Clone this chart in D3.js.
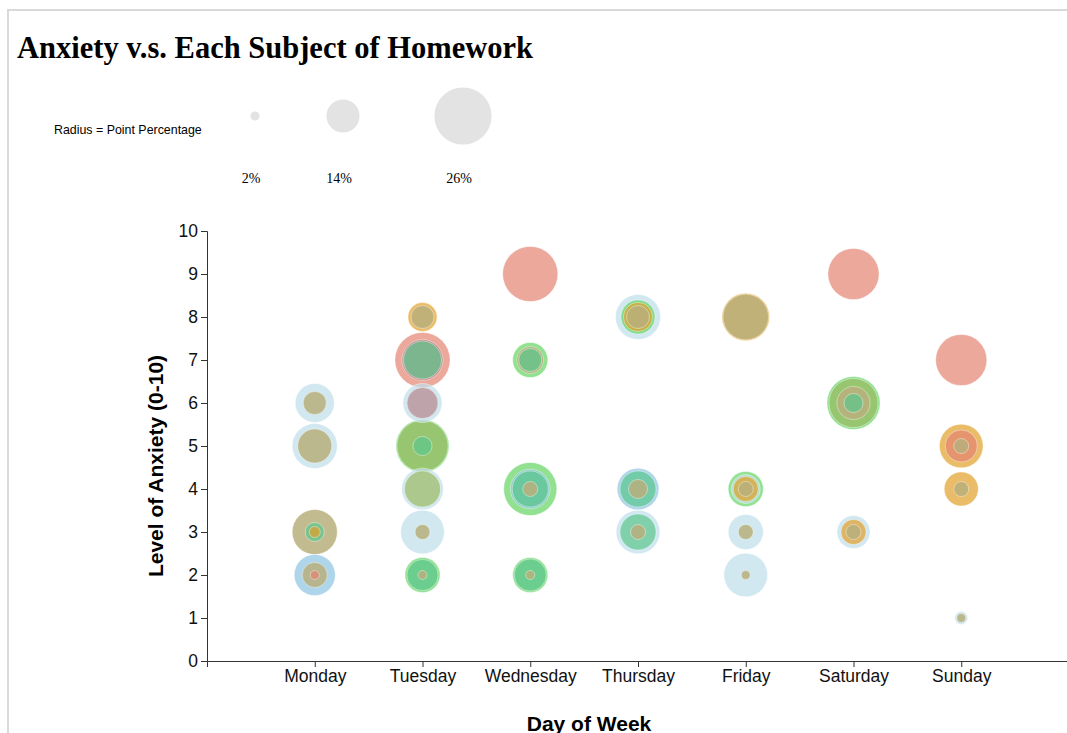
<!DOCTYPE html>
<html>
<head>
<meta charset="utf-8">
<script src="https://cdn.jsdelivr.net/npm/d3@7"></script>
<style>
  body { margin: 0; overflow: hidden; background: #fff; }
  .title { font-family: "Liberation Serif", "Times New Roman", serif; font-weight: bold; font-size: 30.5px; }
  .legendText { font-family: "Liberation Sans", Arial, sans-serif; font-size: 12.4px; }
  .legendPct { font-family: "Liberation Serif", "Times New Roman", serif; font-size: 14px; }
  .axis text { font-family: "Liberation Sans", Arial, sans-serif; font-size: 17.5px; fill: #111; }
  .axis path, .axis line { stroke: #333; }
  .label { font-family: "Liberation Sans", Arial, sans-serif; font-weight: bold; font-size: 21px; }
</style>
</head>
<body>
<svg width="1067" height="733"></svg>
<script>
var days = ["Monday", "Tuesday", "Wednesday", "Thursday", "Friday", "Saturday", "Sunday"];
var yTicks = [0, 1, 2, 3, 4, 5, 6, 7, 8, 9, 10];
var legendPcts = [2, 14, 26];

var subjects = ["Math", "Physics", "Biology", "Chemistry", "English", "History", "Art", "Economics", "Spanish"];
var subjectColors = ["#bfdeeb", "#8cc3e1", "#62d462", "#9bba62", "#e1a028", "#e28370", "#b5888c", "#b9af7d", "#5bc68d"];
var subjectOpacity = [0.7, 0.7, 0.7, 0.7, 0.7, 0.7, 0.7, 0.85, 0.7];

// [day, anxiety, point percentage]
var mathPoints = [["Monday", 6, 17], ["Monday", 5, 20], ["Tuesday", 6, 17], ["Tuesday", 4, 18.3], ["Tuesday", 3, 19.3],
  ["Thursday", 8, 20], ["Thursday", 3, 19.3], ["Friday", 4, 12], ["Friday", 3, 15], ["Friday", 2, 19.3],
  ["Saturday", 3, 14], ["Sunday", 1, 4]];
var physicsPoints = [["Monday", 2, 18], ["Wednesday", 4, 17.3], ["Thursday", 4, 18.3]];
var biologyPoints = [["Tuesday", 5, 24], ["Tuesday", 2, 15], ["Wednesday", 7, 15], ["Wednesday", 4, 24], ["Wednesday", 2, 15],
  ["Thursday", 8, 14.5], ["Friday", 4, 15], ["Saturday", 6, 24]];
var chemistryPoints = [["Tuesday", 5, 23], ["Tuesday", 4, 15.5], ["Saturday", 6, 22]];
var englishPoints = [["Monday", 3, 3], ["Tuesday", 8, 12], ["Thursday", 8, 12], ["Friday", 8, 21.2], ["Friday", 4, 10],
  ["Saturday", 3, 10], ["Sunday", 5, 19.3], ["Sunday", 4, 14.5]];
var historyPoints = [["Monday", 2, 2], ["Tuesday", 7, 25], ["Wednesday", 9, 25], ["Saturday", 9, 23],
  ["Sunday", 7, 23], ["Sunday", 5, 13.5]];
var artPoints = [["Tuesday", 7, 18], ["Tuesday", 6, 13]];
var economicsPoints = [["Monday", 6, 9], ["Monday", 5, 14.5], ["Monday", 3, 20], ["Monday", 2, 10], ["Tuesday", 8, 9],
  ["Tuesday", 3, 5], ["Tuesday", 2, 2], ["Wednesday", 7, 11], ["Wednesday", 4, 5], ["Wednesday", 2, 2],
  ["Thursday", 8, 9], ["Thursday", 4, 7], ["Thursday", 3, 5], ["Friday", 8, 20.2], ["Friday", 4, 5], ["Friday", 3, 5],
  ["Friday", 2, 2], ["Saturday", 6, 14], ["Saturday", 3, 5], ["Sunday", 5, 5], ["Sunday", 4, 5], ["Sunday", 1, 2]];
var spanishPoints = [["Monday", 3, 7], ["Tuesday", 7, 16.4], ["Tuesday", 5, 7], ["Tuesday", 2, 13.1], ["Wednesday", 7, 9],
  ["Wednesday", 4, 15.5], ["Wednesday", 2, 13.5], ["Thursday", 4, 15.5], ["Thursday", 3, 15.5], ["Saturday", 6, 7]];

var allSeries = [mathPoints, physicsPoints, biologyPoints, chemistryPoints, englishPoints, historyPoints, artPoints, economicsPoints, spanishPoints];

var points = [];
allSeries.forEach(function(series, i) {
  series.forEach(function(p) {
    points.push({ subject: subjects[i], idx: i, day: p[0], anxiety: p[1], pct: p[2] });
  });
});
// big bubbles first so the small ones stay visible
points.sort(function(a, b) { return b.pct - a.pct; });

var svg = d3.select("svg");

// page frame
svg.append("rect")
  .attr("x", 8).attr("y", 10)
  .attr("width", 1200).attr("height", 900)
  .attr("fill", "none")
  .attr("stroke", "#d9d9d9")
  .attr("stroke-width", 2);

svg.append("text")
  .attr("class", "title")
  .attr("x", 17)
  .attr("y", 58)
  .text("Anxiety v.s. Each Subject of Homework");

var rScale = d3.scaleLinear().domain([2, 26]).range([4.5, 28.6]);
var color = d3.scaleOrdinal().domain(subjects).range(subjectColors);

// size legend
svg.append("text")
  .attr("class", "legendText")
  .attr("x", 54)
  .attr("y", 134)
  .text("Radius = Point Percentage");

var legendCx = [255, 343, 463];

svg.selectAll(".legendCircle")
  .data(legendPcts)
  .enter().append("circle")
  .attr("class", "legendCircle")
  .attr("cx", function(d, i) { return legendCx[i]; })
  .attr("cy", 116)
  .attr("r", function(d) { return rScale(d); })
  .attr("fill", "#e3e3e3");

svg.selectAll(".legendPct")
  .data(legendPcts)
  .enter().append("text")
  .attr("class", "legendPct")
  .attr("x", function(d, i) { return legendCx[i] - 4; })
  .attr("y", 183)
  .attr("text-anchor", "middle")
  .text(function(d) { return d + "%"; });

var xScale = d3.scalePoint().domain(days).range([207, 1069]).padding(1);
var yScale = d3.scaleLinear().domain([0, 10]).range([661, 231]);

svg.append("g")
  .attr("class", "axis")
  .attr("transform", "translate(0,661)")
  .call(d3.axisBottom(xScale));

svg.append("g")
  .attr("class", "axis")
  .attr("transform", "translate(207,0)")
  .call(d3.axisLeft(yScale).tickValues(yTicks));

svg.append("text")
  .attr("class", "label")
  .attr("transform", "translate(163,466) rotate(-90)")
  .attr("text-anchor", "middle")
  .text("Level of Anxiety (0-10)");

svg.append("text")
  .attr("class", "label")
  .attr("x", 589)
  .attr("y", 731)
  .attr("text-anchor", "middle")
  .text("Day of Week");

svg.selectAll(".bubble")
  .data(points)
  .enter().append("circle")
  .attr("class", "bubble")
  .attr("cx", function(d) { return xScale(d.day); })
  .attr("cy", function(d) { return yScale(d.anxiety); })
  .attr("r", function(d) { return rScale(d.pct); })
  .attr("fill", function(d) { return color(d.subject); })
  .attr("fill-opacity", function(d) { return subjectOpacity[d.idx]; })
  .attr("stroke", "#fff")
  .attr("stroke-opacity", 0.4)
  .attr("stroke-width", 1);
</script>
</body>
</html>
